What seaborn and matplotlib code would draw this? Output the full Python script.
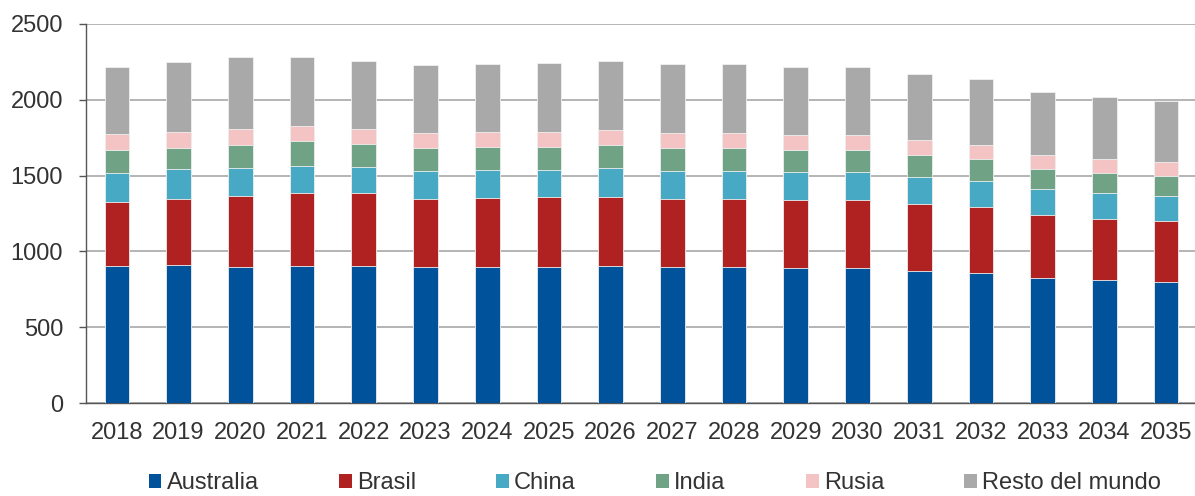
import matplotlib
matplotlib.use("Agg")
import matplotlib.pyplot as plt
import matplotlib.patches as mpatches
import numpy as np
import pandas as pd
import seaborn as sns

years = ["2018", "2019", "2020", "2021", "2022", "2023", "2024", "2025", "2026",
         "2027", "2028", "2029", "2030", "2031", "2032", "2033", "2034", "2035"]
series_names = ["Australia", "Brasil", "China", "India", "Rusia", "Resto del mundo"]
australia = [902, 908, 895, 904, 904, 895, 897, 897, 904, 895, 895, 888, 888, 871, 855, 822, 809, 796]
brasil = [424, 440, 473, 479, 479, 453, 453, 460, 457, 453, 453, 451, 451, 439, 436, 416, 407, 406]
china = [193, 193, 182, 180, 176, 180, 185, 178, 187, 182, 182, 183, 183, 179, 171, 172, 167, 161]
india = [148, 143, 152, 167, 152, 154, 151, 154, 151, 154, 154, 149, 149, 149, 150, 136, 136, 136]
rusia = [107, 106, 105, 97, 94, 99, 102, 101, 102, 99, 99, 99, 99, 97, 92, 92, 93, 91]
resto = [440, 459, 473, 458, 451, 449, 450, 450, 452, 451, 451, 449, 449, 437, 431, 414, 406, 400]
colors = ["#00539B", "#B02121", "#48A9C5", "#70A386", "#F4C3C4", "#A9A9A9"]
yticks = [0, 500, 1000, 1500, 2000, 2500]

sns.set_theme(style="white")
plt.rcParams["font.family"] = ["Liberation Sans", "DejaVu Sans"]
text_color = "#333333"
fs = 17

df = pd.DataFrame({"year": years, "Australia": australia, "Brasil": brasil, "China": china,
                   "India": india, "Rusia": rusia, "Resto del mundo": resto})
cum = df[series_names].cumsum(axis=1)

fig = plt.figure(figsize=(11.95, 4.96), dpi=100)
ax = fig.add_axes([86 / 1195, 1 - 403 / 496, 1111 / 1195, 379 / 496])

for i in reversed(range(len(series_names))):
    tmp = pd.DataFrame({"year": years, "val": cum[series_names[i]].values})
    sns.barplot(data=tmp, x="year", y="val", order=years, color=colors[i], width=0.4,
                edgecolor="#f0f0f0", linewidth=0.6, saturation=1, ax=ax, zorder=3)

ax.set_xlim(-0.5, len(years) - 0.5)
ax.set_ylim(0, 2500)
ax.set_yticks(yticks)
ax.set_yticklabels([str(v) for v in yticks])
ax.set_xlabel("")
ax.set_ylabel("")
ax.yaxis.grid(True, color="#A8A8A8", linewidth=1.2, zorder=0)
ax.set_axisbelow(True)

ax.set_xticks(np.arange(len(years)))
ax.set_xticklabels(years)
ax.set_xticks(np.arange(len(years) + 1) - 0.5, minor=True)
ax.tick_params(axis="x", which="major", length=0, pad=14, labelsize=fs, labelcolor=text_color)
ax.tick_params(axis="x", which="minor", length=5, width=1, color="#555555", direction="out")
ax.tick_params(axis="y", which="major", length=5, width=1, color="#555555", direction="out",
               pad=11.5, labelsize=fs, labelcolor=text_color, left=True)

for s in ["top", "right"]:
    ax.spines[s].set_visible(False)
for s in ["left", "bottom"]:
    ax.spines[s].set_visible(True)
    ax.spines[s].set_color("#555555")
    ax.spines[s].set_linewidth(1)

handles = [mpatches.Patch(facecolor=c, edgecolor="none", label=n) for c, n in zip(colors, series_names)]
fig.legend(handles=handles, loc="center", bbox_to_anchor=(0.548, 1 - 483 / 496), ncol=6,
           frameon=False, fontsize=fs, handlelength=0.54, handleheight=0.54, handletextpad=0.22,
           columnspacing=3.4, labelcolor=text_color, borderpad=0, borderaxespad=0)

fig.savefig("out.png", dpi=100)
